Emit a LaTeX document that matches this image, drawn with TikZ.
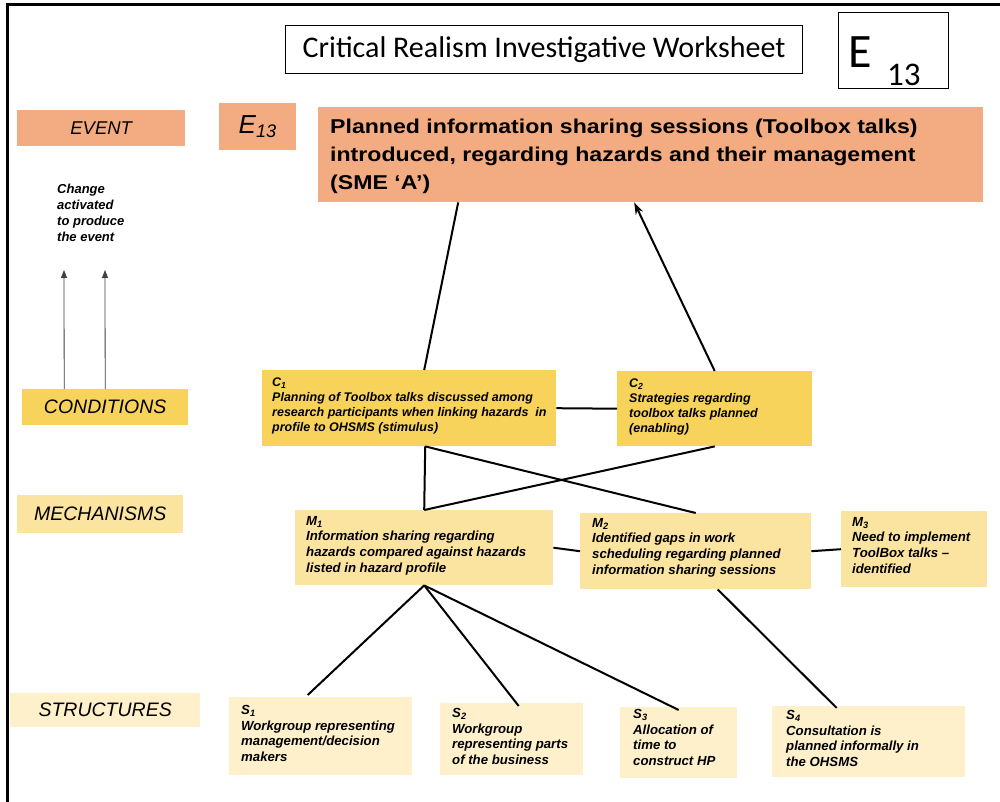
\documentclass[tikz,border=0pt]{standalone}
\usepackage{fontspec}
\setmainfont{Liberation Sans}
\newfontfamily\titlefont{Carlito}
\usetikzlibrary{arrows.meta}
\definecolor{evcol}{HTML}{F3AC82}
\definecolor{condcol}{HTML}{F8D35C}
\definecolor{mechcol}{HTML}{FBE3A0}
\definecolor{strcol}{HTML}{FDF0CB}
\tikzset{
  panel/.style={anchor=north west, inner sep=0pt},
  lvltext/.style={font=\itshape\fontsize{19.5}{22}\selectfont},
  item/.style={anchor=north west, inner sep=0pt, align=left,
    font=\bfseries\itshape\fontsize{12.5}{15}\selectfont},
  bigitem/.style={item, font=\bfseries\itshape\fontsize{13.2}{15.7}\selectfont},
  link/.style={line width=2pt, black},
  thinarrow/.style={line width=0.8pt, black!75, -{Triangle[length=8pt,width=6pt]}},
}
\begin{document}
\begin{tikzpicture}[x=1pt,y=-1pt]
\useasboundingbox (0,0) rectangle (1000,802);
\fill[white] (0,0) rectangle (1000,802);
% page frame
\draw[line width=3pt] (7,802) -- (7,5) -- (1000,5);

% heading
\node[draw, line width=1pt, minimum width=517pt, minimum height=48pt, anchor=north west,
  font=\titlefont\fontsize{30}{34}\selectfont] (title) at (285,25) {Critical Realism Investigative Worksheet};
\node[draw, line width=1pt, minimum width=110pt, minimum height=76pt, anchor=north west] (code) at (838,12) {};
\node[anchor=base west, inner sep=0pt, font=\titlefont\fontsize{48}{52}\selectfont] (codeE) at (848,68) {E};
\node[anchor=base west, inner sep=0pt, font=\titlefont\fontsize{33}{36}\selectfont] (codeN) at (887,86) {13};

% level labels
\node[panel, fill=evcol, minimum width=168pt, minimum height=36pt] (lev) at (17,110) {};
\node[lvltext, font=\itshape\fontsize{18.5}{22}\selectfont] at (lev.center) {EVENT};
\node[panel, fill=condcol, minimum width=166pt, minimum height=36pt] (lcond) at (22,389) {};
\node[lvltext] at (lcond.center) {CONDITIONS};
\node[panel, fill=mechcol, minimum width=166pt, minimum height=38pt] (lmech) at (17,495) {};
\node[lvltext] at (lmech.center) {MECHANISMS};
\node[panel, fill=strcol, minimum width=190pt, minimum height=34pt] (lstr) at (10,693) {};
\node[lvltext] at (lstr.center) {STRUCTURES};

% event
\node[panel, fill=evcol, minimum width=77pt, minimum height=47pt, anchor=north west,
  font=\itshape\fontsize{26}{30}\selectfont] (ecode) at (219,103) {E\textsubscript{13}};
\node[panel, fill=evcol, minimum width=665pt, minimum height=95pt] (ev) at (318,107) {};
\node[anchor=base west, inner sep=0pt, font=\bfseries\fontsize{20}{28}\selectfont] (evtext) at (330,134)
  {\scalebox{1.155}[1]{\begin{tabular}[t]{@{}l@{}}Planned information sharing sessions (Toolbox talks)\\introduced, regarding hazards and their management\\(SME ‘A’)\end{tabular}}};

\node[anchor=north west, inner sep=0pt, align=left, font=\bfseries\itshape\fontsize{13}{16}\selectfont] (chg) at (57,184)
  {Change\\activated\\to produce\\the event};

% conditions
\node[panel, fill=condcol, minimum width=294pt, minimum height=76pt] (C1) at (262,370) {};
\node[item] at (272,378) {C\textsubscript{1}\\Planning of Toolbox talks discussed among\\research participants when linking hazards~ in\\profile to OHSMS (stimulus)};
\node[panel, fill=condcol, minimum width=195pt, minimum height=75pt] (C2) at (617,371) {};
\node[item] at (629,379) {C\textsubscript{2}\\Strategies regarding\\toolbox talks planned\\(enabling)};

% mechanisms
\node[panel, fill=mechcol, minimum width=258pt, minimum height=75pt] (M1) at (295,510) {};
\node[bigitem] at (306,516) {M\textsubscript{1}\\Information sharing regarding\\hazards compared against hazards\\listed in hazard profile};
\node[panel, fill=mechcol, minimum width=231pt, minimum height=76pt] (M2) at (580,513) {};
\node[bigitem] at (592,518) {M\textsubscript{2}\\Identified gaps in work\\scheduling regarding planned\\information sharing sessions};
\node[panel, fill=mechcol, minimum width=146pt, minimum height=76pt] (M3) at (841,511) {};
\node[bigitem] at (852,517) {M\textsubscript{3}\\Need to implement\\ToolBox talks --\\identified};

% structures
\node[panel, fill=strcol, minimum width=183pt, minimum height=78pt] (S1) at (229,697) {};
\node[bigitem] at (241,705) {S\textsubscript{1}\\Workgroup representing\\management/decision\\makers};
\node[panel, fill=strcol, minimum width=143pt, minimum height=72pt] (S2) at (440,703) {};
\node[bigitem] at (452,708) {S\textsubscript{2}\\Workgroup\\representing parts\\of the business};
\node[panel, fill=strcol, minimum width=117pt, minimum height=71pt] (S3) at (620,707) {};
\node[bigitem] at (633,709) {S\textsubscript{3}\\Allocation of\\time to\\construct HP};
\node[panel, fill=strcol, minimum width=193pt, minimum height=71pt] (S4) at (772,706) {};
\node[bigitem] at (786,710) {S\textsubscript{4}\\Consultation is\\planned informally in\\the OHSMS};

% connectors
\coordinate (up1) at (64,270);
\coordinate (up2) at (105,270);
\draw[thinarrow] ([xshift=-41pt]lcond.north) -- (up1);
\draw[thinarrow] (lcond.north) -- (up2);

\draw[link] ([xshift=-192.5pt]ev.south) -- ([xshift=15pt]C1.north);
\draw[link, -{Stealth[length=12pt,width=8pt]}] (C2.north) -- ([xshift=-16.5pt]ev.south);
\draw[link] (C1.east) -- (C2.west);

\draw[link] ([xshift=16pt]C1.south) -- (M1.north);
\draw[link] ([xshift=16pt]C1.south) -- (M2.north);
\draw[link] (C2.south) -- (M1.north);
\draw[link] (M1.east) -- (M2.west);
\draw[link] (M2.east) -- (M3.west);

\draw[link] (M1.south) -- ([xshift=-13pt,yshift=2pt]S1.north);
\draw[link] (M1.south) -- ([xshift=7pt,yshift=-3pt]S2.north);
\draw[link] (M1.south) -- ([yshift=-3pt]S3.north);
\draw[link] ([xshift=22pt]M2.south) -- ([xshift=-32pt,yshift=-2pt]S4.north);
\end{tikzpicture}
\end{document}
